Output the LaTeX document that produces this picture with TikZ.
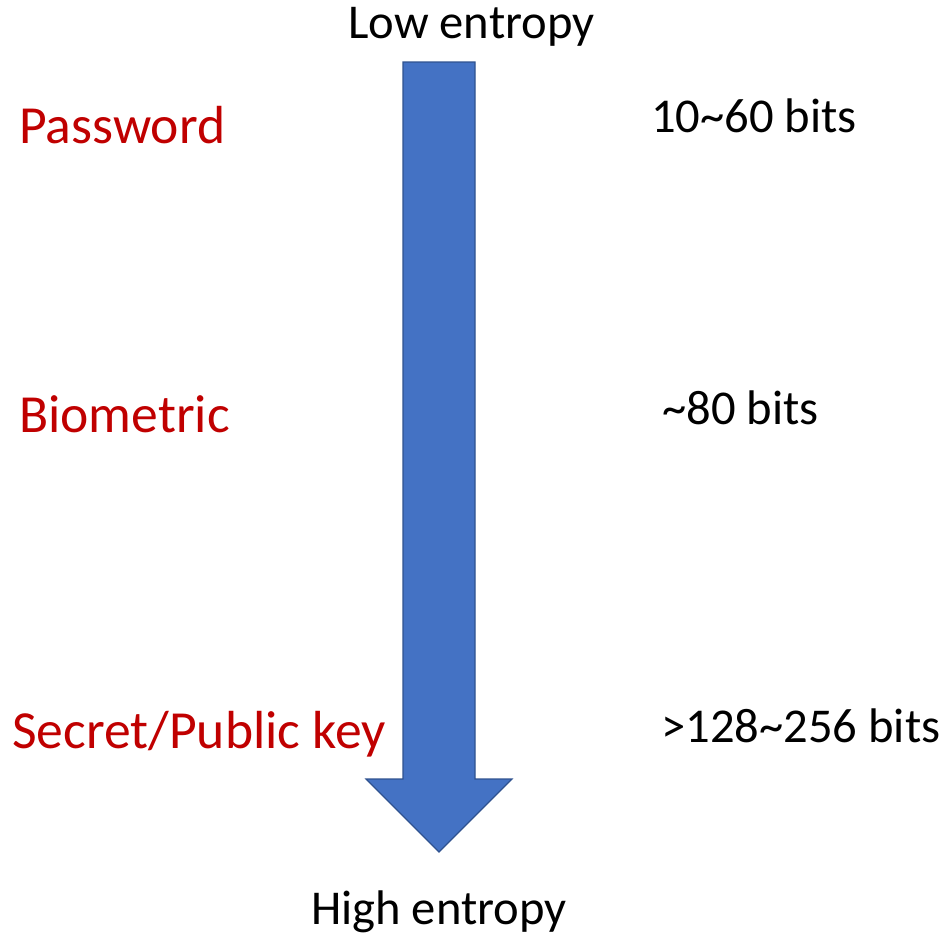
\documentclass[tikz,border=0pt]{standalone}
\usepackage{fontspec}
\setmainfont{Carlito}
\usepackage{xcolor}
\usepackage{tikz}
\usetikzlibrary{calc}
\usetikzlibrary{positioning}
\definecolor{arrowblue}{HTML}{4472C4}
\definecolor{arrowedge}{HTML}{2F528F}
\definecolor{darkred}{HTML}{C00000}

\begin{document}
\begin{tikzpicture}[x=1pt,y=1pt]
						\tikzstyle{kind}=[anchor=base west, inner sep=0pt, text=darkred, font=\fontsize{53.6}{60}\selectfont]
						\tikzstyle{bits}=[anchor=base west, inner sep=0pt, font=\fontsize{48.6}{56}\selectfont]
						\tikzstyle{ends}=[anchor=base west, inner sep=0pt, font=\fontsize{48.6}{56}\selectfont]
						\useasboundingbox (0,0) rectangle (948,-938);
						% the big arrow
						\draw[fill=arrowblue, draw=arrowedge, line width=1.2pt, line join=miter]
							(403,-62) -- (475,-62) -- (475,-779) -- (512,-779) -- (439,-852)
							-- (366,-779) -- (403,-779) -- cycle;
						\node[ends] 		(low) at (348,-38)     		{Low entropy};
						\node[ends] 		(high) at (311,-924)     	{High entropy};
						\node[kind] 		(pw) at (19,-143)     		{Password};
						\node[kind] 		(bio) at (19,-432)     		{Biometric};
						\node[kind] 		(key) at (12,-748)     		{Secret/Public key};
						\node[bits] 		(pwbits) at (651,-132)     	{10\char`~60 bits};
						\node[bits] 		(biobits) at (662,-424)    	{\char`~80 bits};
						\node[bits] 		(keybits) at (661,-742)    	{>128\char`~256 bits};
				\end{tikzpicture}
\end{document}
